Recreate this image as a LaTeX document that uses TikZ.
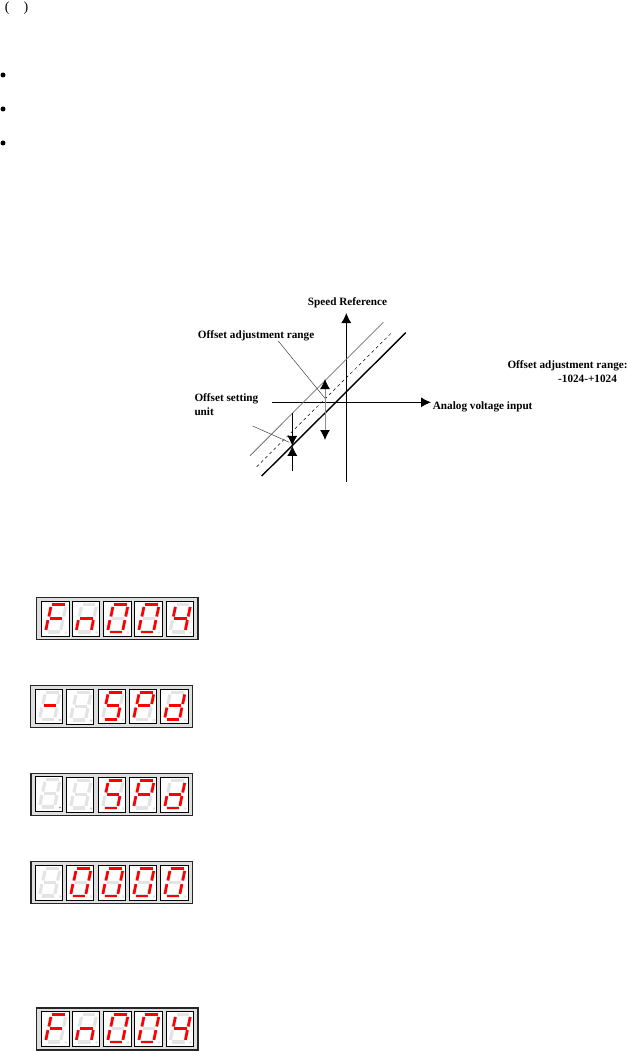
\documentclass[tikz,border=0pt]{standalone}
\usepackage{fontspec}
\setmainfont{Liberation Serif}
\usetikzlibrary{arrows.meta,positioning}
\definecolor{ledred}{HTML}{FF0000}
\definecolor{ledoff}{HTML}{E4E4E4}
\definecolor{panel}{HTML}{DEDEDE}
\tikzset{
  seg a/.style={insert path={(10.5,3.2)--(23,3.2)}},
  seg b/.style={insert path={(24.2,5.4)--(22.2,15)}},
  seg c/.style={insert path={(21.4,18.6)--(19.4,28.4)}},
  seg d/.style={insert path={(6,30.5)--(18.5,30.5)}},
  seg e/.style={insert path={(6.4,18.6)--(4.4,28.4)}},
  seg f/.style={insert path={(9.4,5.4)--(7.4,15)}},
  seg g/.style={insert path={(8,16.8)--(20.5,16.8)}},
  seg none/.style={}
}
\newcommand{\leddigit}[5]{%
  \begin{scope}[shift={(#1,#2)}]
    \draw[black,line width=0.9pt,fill=white] (0,0) rectangle (#3,34.5);
    \foreach \s in {a,b,c,d,e,f,g} \draw[ledoff,line width=3.2pt,seg \s];
    \fill[ledoff] (24.5,31) circle (1.4);
    \fill[#5] (24.5,31) circle (0.8);
    \foreach \s in {#4} \draw[ledred,line width=2.7pt,seg \s];
  \end{scope}}
\begin{document}
\begin{tikzpicture}[
  x=1pt,y=-1pt,
  lbl/.style={font=\fontsize{11.2}{13}\selectfont\bfseries,inner sep=0pt,anchor=base west},
  arrow/.style={-{Latex[length=10pt,width=10pt,black]},line width=0.8pt},
  leader/.style={line width=0.5pt,black!75},
  dot/.style={circle,fill=black,inner sep=0pt,minimum size=5pt},
  display/.style={draw=black!85,fill=panel}
]
\useasboundingbox (0,0) rectangle (628,1051);
% top of the page
\node[font=\fontsize{14}{15}\selectfont,inner sep=0pt] (bracket) at (16.5,8) {(\hspace{14pt})};
\node[dot] (dota) at (3,75) {};
\node[dot] (dotb) at (3,109) {};
\node[dot] (dotc) at (3,143) {};
% speed reference graph
\coordinate (ybot) at (346.3,481.7);
\coordinate (ytop) at (346.3,313);
\coordinate (xleft) at (272,402.3);
\coordinate (xright) at (431,402.3);
\draw[arrow] (ybot)--(ytop);
\draw[arrow] (xleft)--(xright);
\coordinate (thicka) at (261.7,476);
\coordinate (thickb) at (405.7,332.7);
\coordinate (dasha) at (256.7,466.7);
\coordinate (dashb) at (392.7,331.7);
\coordinate (graya) at (250,455.7);
\coordinate (grayb) at (383.3,322.3);
\draw[line width=1.4pt] (thicka)--(thickb);
\draw[dashed,line width=0.5pt] (dasha)--(dashb);
\draw[black!55,line width=0.8pt] (graya)--(grayb);
% offset arrows
\coordinate (rangemid) at (325,398.3);
\coordinate (rangeup) at (325,379);
\coordinate (rangedown) at (325,440);
\draw[arrow,black!45,line width=1pt] (rangemid)--(rangeup);
\draw[arrow,black!45,line width=1pt] (rangemid)--(rangedown);
\coordinate (unittop) at (292.3,413.3);
\coordinate (unitbot) at (292.3,471);
\coordinate (unitmid) at (292.3,445.8);
\draw[arrow] (unittop)--(unitmid);
\draw[arrow] (unitbot)--(unitmid);
% labels
\node[lbl] (speed) at (307.7,305.7) {Speed Reference};
\node[lbl] (range) at (197.7,338.3) {Offset adjustment range};
\node[lbl] (setting) at (194.3,401.7) {Offset setting};
\node[lbl] (unit) at (194.3,415) {unit};
\node[lbl] (analog) at (432.7,409.5) {Analog voltage input};
\node[lbl] (rangeinfo) at (507.3,368) {Offset adjustment range:};
\node[lbl] (rangeval) at (558,382) {-1024-+1024};
\coordinate (rangelead) at (278.3,341);
\coordinate (unitlead) at (252.7,426);
\coordinate (unitend) at (289.3,442.3);
\draw[leader] (rangelead)--(rangemid);
\draw[leader] (unitlead)--(unitend);
% display 1
\draw[display,line width=1.6pt] (36.5,597.5) rectangle (198,639.5);
\leddigit{41.5}{601.5}{27.5}{a,e,f,g}{ledoff}
\leddigit{72}{601.5}{27.5}{c,e,g}{ledoff}
\leddigit{103.5}{601.5}{28}{a,b,c,d,e,f}{ledoff}
\leddigit{134.5}{601.5}{28}{a,b,c,d,e,f}{ledoff}
\leddigit{166}{601.5}{27.5}{b,c,f,g}{ledoff}
% display 2
\draw[display,line width=1pt] (30.5,685.5) rectangle (192.5,727);
\leddigit{35.5}{689}{27}{g}{ledred!50}
\leddigit{66.5}{689.5}{27}{none}{ledred!30}
\leddigit{98.5}{689}{27}{a,c,d,f,g}{ledoff}
\leddigit{129.5}{689}{27}{a,b,e,f,g}{ledoff}
\leddigit{160.5}{689}{28}{b,c,d,e,g}{ledoff}
% display 3
\draw[display,line width=1.5pt] (31,773.5) rectangle (192.5,815.5);
\leddigit{35.5}{776.5}{27}{none}{ledred!60}
\leddigit{66.5}{777.5}{27}{none}{ledred!30}
\leddigit{98.5}{777.5}{27}{a,c,d,f,g}{ledoff}
\leddigit{129.5}{777.5}{27}{a,b,e,f,g}{ledoff}
\leddigit{160.5}{777.5}{28}{b,c,d,e,g}{ledoff}
% display 4
\draw[display,line width=1.2pt] (31,861.5) rectangle (192.5,903.5);
\leddigit{35.5}{865.5}{27}{none}{ledoff}
\leddigit{66.5}{865.5}{27}{a,b,c,d,e,f}{ledoff}
\leddigit{98.5}{865.5}{27}{a,b,c,d,e,f}{ledoff}
\leddigit{129.5}{865.5}{27}{a,b,c,d,e,f}{ledoff}
\leddigit{160.5}{865.5}{28}{a,b,c,d,e,f}{ledoff}
% display 5
\draw[display,line width=1.6pt] (36.5,1008) rectangle (198,1050);
\leddigit{41.5}{1011.5}{27.5}{a,e,f,g}{ledoff}
\leddigit{72}{1011.5}{27.5}{c,e,g}{ledoff}
\leddigit{103.5}{1011.5}{28}{a,b,c,d,e,f}{ledoff}
\leddigit{134.5}{1011.5}{28}{a,b,c,d,e,f}{ledoff}
\leddigit{166}{1011.5}{27.5}{b,c,f,g}{ledoff}
\end{tikzpicture}
\end{document}
